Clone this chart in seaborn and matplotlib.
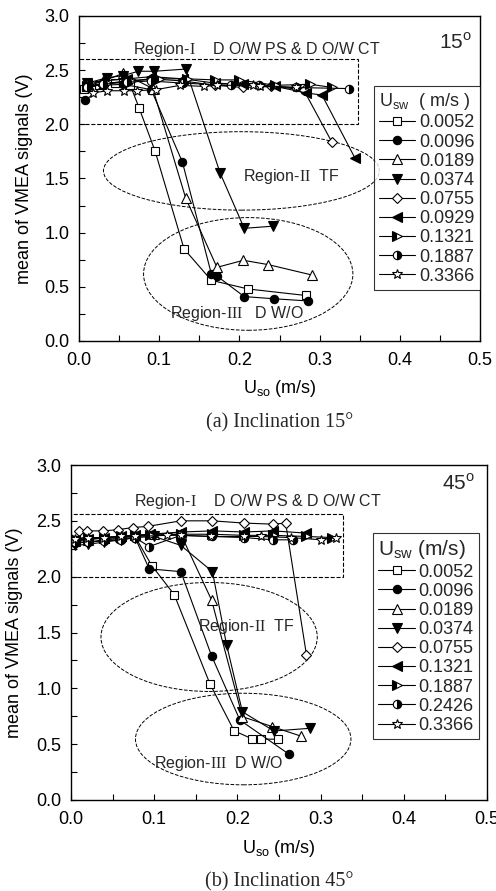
import matplotlib
matplotlib.use("Agg")
import matplotlib.pyplot as plt
import seaborn as sns
from matplotlib.patches import Ellipse, Rectangle
from matplotlib.ticker import MultipleLocator

sns.set_theme(style="white")
plt.rcParams['font.family'] = ['Liberation Sans', 'DejaVu Sans']
plt.rcParams['mathtext.fontset'] = 'custom'
plt.rcParams['mathtext.rm'] = 'Liberation Serif'
plt.rcParams['mathtext.sf'] = 'Liberation Sans'

# ---------------- data: panel (a) Inclination 15 deg ----------------
a_labels = ["0.0052", "0.0096", "0.0189", "0.0374", "0.0755", "0.0929", "0.1321", "0.1887", "0.3366"]
a_x_0052 = [0.006, 0.025, 0.045, 0.064, 0.075, 0.095, 0.131, 0.165, 0.211, 0.283]
a_y_0052 = [2.33, 2.36, 2.38, 2.36, 2.15, 1.75, 0.85, 0.56, 0.48, 0.42]
a_x_0096 = [0.008, 0.03, 0.055, 0.09, 0.129, 0.165, 0.172, 0.206, 0.243, 0.285]
a_y_0096 = [2.22, 2.36, 2.37, 2.32, 1.65, 0.62, 0.60, 0.41, 0.39, 0.37]
a_x_0189 = [0.01, 0.03, 0.055, 0.092, 0.133, 0.172, 0.205, 0.236, 0.29]
a_y_0189 = [2.35, 2.40, 2.47, 2.33, 1.32, 0.68, 0.745, 0.705, 0.61]
a_x_0374 = [0.01, 0.035, 0.055, 0.074, 0.094, 0.133, 0.176, 0.206, 0.242]
a_y_0374 = [2.38, 2.43, 2.45, 2.49, 2.49, 2.51, 1.55, 1.04, 1.06]
a_x_0755 = [0.01, 0.03, 0.06, 0.09, 0.13, 0.17, 0.205, 0.24, 0.28, 0.315]
a_y_0755 = [2.36, 2.37, 2.40, 2.42, 2.40, 2.36, 2.34, 2.35, 2.32, 1.84]
a_x_0929 = [0.01, 0.03, 0.06, 0.09, 0.13, 0.17, 0.205, 0.245, 0.283, 0.303, 0.344]
a_y_0929 = [2.37, 2.40, 2.42, 2.44, 2.42, 2.38, 2.37, 2.35, 2.29, 2.27, 1.69]
a_x_1321 = [0.01, 0.035, 0.065, 0.10, 0.135, 0.17, 0.20, 0.245, 0.288, 0.316]
a_y_1321 = [2.35, 2.38, 2.40, 2.42, 2.42, 2.41, 2.41, 2.36, 2.37, 2.34]
a_x_1887 = [0.01, 0.03, 0.06, 0.09, 0.13, 0.19, 0.225, 0.27, 0.337]
a_y_1887 = [2.34, 2.37, 2.39, 2.40, 2.38, 2.36, 2.36, 2.34, 2.33]
a_x_3366 = [0.017, 0.035, 0.056, 0.072, 0.096, 0.126, 0.156, 0.172, 0.217, 0.226, 0.271]
a_y_3366 = [2.29, 2.31, 2.31, 2.31, 2.32, 2.36, 2.35, 2.36, 2.36, 2.35, 2.34]

# ---------------- data: panel (b) Inclination 45 deg ----------------
b_labels = ["0.0052", "0.0096", "0.0189", "0.0374", "0.0755", "0.1321", "0.1887", "0.2426", "0.3366"]
b_x_0052 = [0.005, 0.02, 0.04, 0.06, 0.077, 0.097, 0.124, 0.167, 0.196, 0.217, 0.228, 0.249]
b_y_0052 = [2.33, 2.34, 2.34, 2.35, 2.36, 2.10, 1.84, 1.04, 0.62, 0.55, 0.545, 0.545]
b_x_0096 = [0.005, 0.02, 0.04, 0.058, 0.077, 0.094, 0.132, 0.169, 0.203, 0.262]
b_y_0096 = [2.30, 2.31, 2.33, 2.34, 2.35, 2.07, 2.045, 1.29, 0.716, 0.41]
b_x_0189 = [0.005, 0.02, 0.04, 0.06, 0.077, 0.10, 0.132, 0.169, 0.206, 0.242, 0.276]
b_y_0189 = [2.32, 2.33, 2.35, 2.36, 2.37, 2.38, 2.38, 1.79, 0.746, 0.657, 0.573]
b_x_0374 = [0.005, 0.02, 0.04, 0.06, 0.077, 0.10, 0.132, 0.17, 0.187, 0.206, 0.244, 0.287]
b_y_0374 = [2.28, 2.29, 2.31, 2.33, 2.35, 2.36, 2.28, 2.045, 1.39, 0.79, 0.618, 0.642]
b_x_0755 = [0.01, 0.019, 0.038, 0.056, 0.074, 0.092, 0.132, 0.17, 0.208, 0.243, 0.258, 0.283]
b_y_0755 = [2.41, 2.41, 2.41, 2.42, 2.44, 2.45, 2.50, 2.50, 2.48, 2.47, 2.48, 1.30]
b_x_1321 = [0.005, 0.02, 0.04, 0.06, 0.077, 0.095, 0.132, 0.17, 0.208, 0.243, 0.283]
b_y_1321 = [2.33, 2.34, 2.35, 2.36, 2.37, 2.38, 2.40, 2.41, 2.40, 2.41, 2.39]
b_x_1887 = [0.005, 0.02, 0.04, 0.06, 0.077, 0.095, 0.132, 0.17, 0.208, 0.243, 0.283, 0.314]
b_y_1887 = [2.34, 2.35, 2.35, 2.36, 2.37, 2.37, 2.38, 2.38, 2.37, 2.37, 2.36, 2.35]
b_x_2426 = [0.005, 0.02, 0.04, 0.06, 0.077, 0.094, 0.132, 0.17, 0.208, 0.243, 0.267]
b_y_2426 = [2.31, 2.31, 2.32, 2.33, 2.35, 2.27, 2.37, 2.36, 2.35, 2.33, 2.33]
b_x_3366 = [0.005, 0.02, 0.04, 0.06, 0.077, 0.115, 0.132, 0.168, 0.208, 0.228, 0.265, 0.301, 0.318]
b_y_3366 = [2.34, 2.35, 2.35, 2.36, 2.36, 2.37, 2.37, 2.36, 2.36, 2.36, 2.35, 2.33, 2.35]

a_series = [(a_x_0052, a_y_0052), (a_x_0096, a_y_0096), (a_x_0189, a_y_0189),
            (a_x_0374, a_y_0374), (a_x_0755, a_y_0755), (a_x_0929, a_y_0929),
            (a_x_1321, a_y_1321), (a_x_1887, a_y_1887), (a_x_3366, a_y_3366)]
b_series = [(b_x_0052, b_y_0052), (b_x_0096, b_y_0096), (b_x_0189, b_y_0189),
            (b_x_0374, b_y_0374), (b_x_0755, b_y_0755), (b_x_1321, b_y_1321),
            (b_x_1887, b_y_1887), (b_x_2426, b_y_2426), (b_x_3366, b_y_3366)]

# marker styles (marker, facecolor, fillstyle, size)
styles = [("s", "white", "full", 5.5),
          ("o", "black", "full", 6),
          ("^", "white", "full", 6.5),
          ("v", "black", "full", 6.5),
          ("D", "white", "full", 5),
          ("<", "black", "full", 6.5),
          (">", "black", "left", 6.5),
          ("o", "black", "right", 6),
          ("*", "white", "full", 7.5)]

W, H = 496, 891
fig = plt.figure(figsize=(W / 100, H / 100), dpi=100)
ax1 = fig.add_axes([79 / W, 1 - 341 / H, 401 / W, 325 / H])
ax2 = fig.add_axes([71 / W, 1 - 800 / H, 416 / W, 335 / H])

FS = 13


def draw(ax, series, labels):
    for (xs, ys), lab, (m, fc, fs, ms) in zip(series, labels, styles):
        sns.lineplot(x=xs, y=ys, ax=ax, color="black", lw=0.8, marker=m,
                     markersize=ms, markerfacecolor=fc, markeredgecolor="black",
                     markeredgewidth=0.8, fillstyle=fs, markerfacecoloralt="white",
                     estimator=None, sort=False, label=lab)


def style_axes(ax, ylab_x, xlab_y):
    ax.set_xlim(0, 0.5)
    ax.set_ylim(0, 3.0)
    ax.xaxis.set_major_locator(MultipleLocator(0.1))
    ax.xaxis.set_minor_locator(MultipleLocator(0.05))
    ax.yaxis.set_major_locator(MultipleLocator(0.5))
    ax.yaxis.set_minor_locator(MultipleLocator(0.25))
    ax.tick_params(which="both", direction="in", length=4, width=0.8,
                   bottom=True, left=True, top=False, right=False,
                   labelsize=FS, colors="black")
    ax.tick_params(axis="x", pad=8)
    ax.tick_params(axis="y", pad=7)
    for s in ax.spines.values():
        s.set_color("black")
        s.set_linewidth(1.0)
    ax.set_xticklabels([f"{v:.1f}" for v in ax.get_xticks()])
    ax.set_yticklabels([f"{v:.1f}" for v in ax.get_yticks()])
    ax.set_ylabel("mean of VMEA signals (V)", fontsize=FS, color="black")
    ax.set_xlabel(r"U$_{\mathsf{so}}$ (m/s)", fontsize=FS, color="black")
    ax.yaxis.set_label_coords(ylab_x, 0.5)
    ax.xaxis.set_label_coords(0.5, xlab_y)


draw(ax1, a_series, a_labels)
draw(ax2, b_series, b_labels)
style_axes(ax1, (33 - 79) / 401, (341 - 378) / 325)
style_axes(ax2, (23 - 71) / 416, (800 - 838) / 335)

# region boxes and ellipses
ax1.add_patch(Rectangle((0, 2.0), 0.348, 0.6, fill=False, ls="--", lw=0.8, ec="black"))
ax1.add_patch(Ellipse((0.2025, 1.57), 0.344, 0.724, fill=False, ls="--", lw=0.7, ec="black"))
ax1.add_patch(Ellipse((0.211, 0.619), 0.261, 1.04, fill=False, ls="--", lw=0.7, ec="black"))
ax2.add_patch(Rectangle((0, 2.0), 0.327, 0.56, fill=False, ls="--", lw=0.8, ec="black"))
ax2.add_patch(Ellipse((0.166, 1.46), 0.26, 0.976, fill=False, ls="--", lw=0.7, ec="black"))
ax2.add_patch(Ellipse((0.207, 0.546), 0.259, 0.82, fill=False, ls="--", lw=0.7, ec="black"))

# annotations
AF = 11.5
ax1.text(0.222, 2.69, r"Region-$\mathrm{I}$    D O/W PS & D O/W CT", fontsize=AF, ha="center", va="center")
ax1.text(0.265, 1.515, r"Region-$\mathrm{II}$  TF", fontsize=AF, ha="center", va="center")
ax1.text(0.197, 0.25, r"Region-$\mathrm{III}$   D W/O", fontsize=AF, ha="center", va="center")
ax1.text(0.49, 2.76, r"15$^{\mathsf{o}}$", fontsize=15, ha="right", va="center")
ax2.text(0.225, 2.67, r"Region-$\mathrm{I}$    D O/W PS & D O/W CT", fontsize=AF, ha="center", va="center")
ax2.text(0.211, 1.55, r"Region-$\mathrm{II}$  TF", fontsize=AF, ha="center", va="center")
ax2.text(0.178, 0.33, r"Region-$\mathrm{III}$  D W/O", fontsize=AF, ha="center", va="center")
ax2.text(0.485, 2.84, r"45$^{\mathsf{o}}$", fontsize=15, ha="right", va="center")

# legends
leg1 = ax1.legend(title=r"U$_{\mathsf{sw}}$  ( m/s )", loc="upper right",
                  bbox_to_anchor=(1.0, 0.785), borderaxespad=0, fontsize=FS,
                  title_fontsize=FS, frameon=True, fancybox=False, handlelength=2.0,
                  handletextpad=0.2, labelspacing=0.12, borderpad=0.3)
leg1._legend_box.align = "left"
leg1.get_frame().set_edgecolor("black")
leg1.get_frame().set_linewidth(0.8)
leg2 = ax2.legend(title=r"U$_{\mathsf{sw}}$ (m/s)", loc="upper right",
                  bbox_to_anchor=(0.981, 0.797), borderaxespad=0, fontsize=FS,
                  title_fontsize=15, frameon=True, fancybox=False, handlelength=2.0,
                  handletextpad=0.2, labelspacing=0.12, borderpad=0.3)
leg2._legend_box.align = "left"
leg2.get_frame().set_edgecolor("black")
leg2.get_frame().set_linewidth(0.8)

# captions
fig.text(279.5 / W, 1 - 423 / H, "(a) Inclination 15°", family="Liberation Serif",
         fontsize=14.5, ha="center", va="center")
fig.text(279 / W, 1 - 882 / H, "(b) Inclination 45°", family="Liberation Serif",
         fontsize=14.5, ha="center", va="center")

fig.savefig("out.png", dpi=100)
